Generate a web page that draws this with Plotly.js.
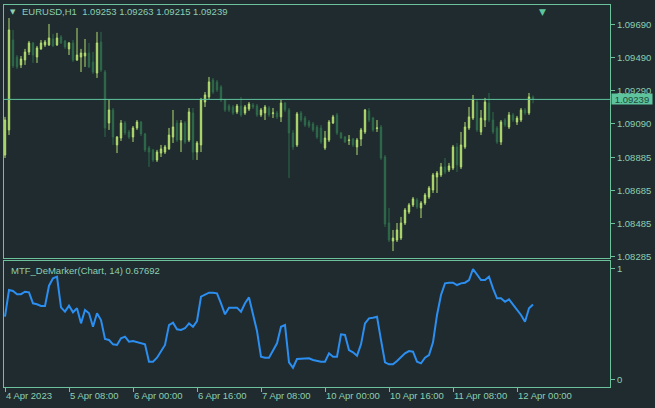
<!DOCTYPE html>
<html>
<head>
<meta charset="utf-8">
<script src="https://cdn.plot.ly/plotly-3.0.1.min.js"></script>
<style>html,body{margin:0;padding:0;background:#1f2b2e;}#chart{width:655px;height:408px;}</style>
</head>
<body>
<div id="chart"></div>
<script>
// ---- data (EURUSD H1, 133 bars) ----
const symbol = "EURUSD,H1";
const openP = [1.08902,1.09054,1.09599,1.09496,1.09448,1.09478,1.09526,1.09581,1.09496,1.09545,
1.09569,1.09569,1.09605,1.09569,1.09617,1.09593,1.09545,1.09581,1.09478,1.09496,
1.09502,1.09520,1.09466,1.09399,1.09587,1.09405,1.09096,1.09175,1.08963,1.09005,
1.09096,1.09042,1.09011,1.09066,1.09102,1.09030,1.08945,1.08933,1.08872,1.08914,
1.08920,1.08939,1.09011,1.09096,1.08993,1.09096,1.08993,1.09157,1.08920,1.08963,
1.09223,1.09254,1.09357,1.09345,1.09314,1.09236,1.09199,1.09193,1.09163,1.09199,
1.09157,1.09181,1.09205,1.09199,1.09145,1.09157,1.09187,1.09153,1.09157,1.09133,
1.09217,1.09175,1.09036,1.08963,1.09157,1.09126,1.09102,1.09090,1.09072,1.09066,
1.08945,1.08993,1.09096,1.09145,1.09036,1.09011,1.08990,1.08999,1.08951,1.08999,
1.09042,1.09169,1.09126,1.09063,1.09072,1.08890,1.08490,1.08381,1.08387,1.08399,
1.08490,1.08557,1.08599,1.08630,1.08581,1.08611,1.08648,1.08690,1.08769,1.08781,
1.08830,1.08811,1.08823,1.08951,1.08830,1.08951,1.09066,1.09126,1.09223,1.09042,
1.09114,1.09217,1.09114,1.09066,1.08981,1.09114,1.09072,1.09145,1.09102,1.09114,
1.09175,1.09157,1.09253];
const highP = [1.09133,1.09732,1.09660,1.09508,1.09502,1.09545,1.09593,1.09587,1.09563,1.09599,
1.09599,1.09696,1.09636,1.09642,1.09629,1.09599,1.09587,1.09599,1.09672,1.09545,
1.09605,1.09581,1.09526,1.09648,1.09648,1.09417,1.09236,1.09187,1.09017,1.09114,
1.09108,1.09054,1.09078,1.09114,1.09108,1.09036,1.08957,1.08939,1.08933,1.08963,
1.08963,1.09066,1.09175,1.09114,1.09114,1.09108,1.09187,1.09187,1.08987,1.09248,
1.09284,1.09375,1.09369,1.09357,1.09326,1.09242,1.09211,1.09205,1.09211,1.09254,
1.09205,1.09223,1.09217,1.09211,1.09187,1.09205,1.09199,1.09187,1.09169,1.09236,
1.09223,1.09187,1.09054,1.09163,1.09169,1.09139,1.09114,1.09102,1.09084,1.09084,
1.09048,1.09114,1.09145,1.09157,1.09042,1.09017,1.09023,1.09005,1.09005,1.09066,
1.09181,1.09187,1.09133,1.09114,1.09084,1.08902,1.08581,1.08448,1.08490,1.08527,
1.08581,1.08611,1.08648,1.08642,1.08623,1.08672,1.08714,1.08793,1.08805,1.08854,
1.08884,1.08854,1.08963,1.08975,1.09042,1.09102,1.09193,1.09266,1.09236,1.09175,
1.09248,1.09278,1.09163,1.09078,1.09114,1.09126,1.09163,1.09157,1.09139,1.09187,
1.09187,1.09278,1.09263];
const lowP = [1.08884,1.09023,1.09429,1.09423,1.09429,1.09448,1.09508,1.09460,1.09460,1.09539,
1.09557,1.09563,1.09557,1.09563,1.09575,1.09545,1.09508,1.09466,1.09472,1.09405,
1.09436,1.09429,1.09393,1.09369,1.09405,1.09011,1.09054,1.08963,1.08914,1.08987,
1.09023,1.08999,1.08981,1.09054,1.09017,1.08920,1.08830,1.08860,1.08860,1.08890,
1.08908,1.08933,1.08975,1.08981,1.08920,1.08969,1.08981,1.08872,1.08872,1.08920,
1.09193,1.09242,1.09272,1.09284,1.09223,1.09163,1.09163,1.09145,1.09151,1.09133,
1.09145,1.09169,1.09181,1.09133,1.09133,1.09114,1.09133,1.09126,1.09120,1.09102,
1.09163,1.08763,1.08933,1.08951,1.09102,1.09072,1.09066,1.09042,1.08999,1.08969,
1.08933,1.08981,1.09090,1.09023,1.08999,1.08975,1.08963,1.08951,1.08902,1.08957,
1.09030,1.09102,1.09042,1.09042,1.08872,1.08466,1.08375,1.08320,1.08375,1.08387,
1.08478,1.08545,1.08587,1.08575,1.08520,1.08599,1.08636,1.08672,1.08672,1.08769,
1.08787,1.08799,1.08811,1.08799,1.08817,1.08939,1.09054,1.09114,1.09042,1.09023,
1.09072,1.09102,1.09030,1.08969,1.08963,1.09072,1.09060,1.09102,1.09084,1.09102,
1.09145,1.09145,1.09215];
const closeP = [1.09114,1.09660,1.09442,1.09436,1.09484,1.09526,1.09581,1.09508,1.09551,1.09581,
1.09587,1.09611,1.09563,1.09611,1.09581,1.09557,1.09581,1.09478,1.09508,1.09520,
1.09520,1.09436,1.09405,1.09581,1.09417,1.09066,1.09175,1.09011,1.09011,1.09096,
1.09036,1.09011,1.09066,1.09102,1.09030,1.08933,1.08920,1.08872,1.08920,1.08939,
1.08951,1.09023,1.09072,1.08993,1.09096,1.08981,1.09163,1.08920,1.08975,1.09236,
1.09266,1.09345,1.09284,1.09296,1.09236,1.09175,1.09175,1.09157,1.09199,1.09145,
1.09193,1.09211,1.09193,1.09145,1.09175,1.09193,1.09145,1.09157,1.09133,1.09217,
1.09175,1.09036,1.08951,1.09151,1.09114,1.09084,1.09078,1.09054,1.09011,1.08981,
1.09005,1.09102,1.09133,1.09036,1.09005,1.08981,1.08993,1.08963,1.08993,1.09054,
1.09175,1.09114,1.09054,1.09066,1.08884,1.08484,1.08387,1.08399,1.08448,1.08490,
1.08569,1.08599,1.08636,1.08587,1.08611,1.08660,1.08702,1.08781,1.08793,1.08830,
1.08799,1.08836,1.08951,1.08842,1.08963,1.09072,1.09133,1.09236,1.09054,1.09126,
1.09223,1.09114,1.09042,1.08981,1.09102,1.09084,1.09145,1.09114,1.09126,1.09175,
1.09157,1.09254,1.09239];
const demarker = [0.568,0.807,0.798,0.769,0.770,0.792,0.786,0.688,0.679,0.664,
0.664,0.846,0.912,0.927,0.652,0.613,0.667,0.607,0.643,0.508,
0.628,0.598,0.478,0.598,0.538,0.368,0.359,0.320,0.314,0.374,
0.389,0.344,0.350,0.338,0.329,0.320,0.164,0.164,0.200,0.254,
0.314,0.493,0.514,0.455,0.449,0.464,0.508,0.478,0.529,0.747,
0.762,0.783,0.783,0.777,0.688,0.589,0.649,0.649,0.649,0.613,
0.688,0.741,0.583,0.439,0.209,0.200,0.200,0.269,0.329,0.478,
0.493,0.159,0.110,0.188,0.188,0.188,0.194,0.179,0.170,0.164,
0.164,0.239,0.209,0.209,0.410,0.404,0.269,0.248,0.218,0.320,
0.508,0.553,0.559,0.568,0.359,0.159,0.141,0.141,0.170,0.209,
0.239,0.260,0.254,0.164,0.149,0.200,0.224,0.338,0.583,0.762,
0.867,0.873,0.873,0.852,0.867,0.873,0.897,0.996,0.948,0.897,
0.897,0.927,0.822,0.733,0.733,0.702,0.724,0.679,0.637,0.583,
0.523,0.643,0.67692];
const priceTickVals = [1.08285,1.08485,1.08685,1.08885,1.09090,1.09290,1.09490,1.09690];
const priceTickText = ["1.08285","1.08485","1.08685","1.08885","1.09090","1.09290","1.09490","1.09690"];
const timeTickBars = [0,16,32,48,64,80,96,112,128];
const timeTickText = ["4 Apr 2023","5 Apr 08:00","6 Apr 00:00","6 Apr 16:00","7 Apr 08:00","10 Apr 00:00","10 Apr 16:00","11 Apr 08:00","12 Apr 00:00"];

// ---- styling ----
const BG = "#1f2b2e";
const FRAME = "#6cc39b";
const TXT = "#8ccfb3";
const BULL = "#b3dd6e";
const BEAR = "#2f6b4a";
const FONT = "Liberation Sans, Arial, sans-serif";
const FS = 9.5;

const idx = openP.map((_, i) => i);
const last = closeP.length - 1;

const traces = [
  {
    type: "candlestick", x: idx, open: openP, high: highP, low: lowP, close: closeP,
    xaxis: "x", yaxis: "y", whiskerwidth: 0,
    increasing: {line: {color: BULL, width: 1}, fillcolor: BULL},
    decreasing: {line: {color: BEAR, width: 1}, fillcolor: BEAR},
    hoverinfo: "skip"
  },
  {
    type: "scatter", mode: "lines", x: idx, y: demarker, xaxis: "x2", yaxis: "y2",
    line: {color: "#2b8ef0", width: 2}, hoverinfo: "skip"
  }
];

const layout = {
  width: 655, height: 408,
  paper_bgcolor: BG, plot_bgcolor: BG,
  margin: {l: 4, r: 45, t: 5, b: 21},
  showlegend: false,
  boxgap: 0.5,
  font: {family: FONT, size: FS, color: TXT},
  xaxis: {
    domain: [0, 1], anchor: "y", range: [-0.25, 151.25],
    showline: true, mirror: true, linecolor: FRAME, linewidth: 1,
    showgrid: false, zeroline: false, showticklabels: false, ticks: "",
    rangeslider: {visible: false}, fixedrange: true
  },
  yaxis: {
    domain: [0.3377, 1], anchor: "x", side: "right",
    range: [1.08278, 1.09811],
    tickvals: priceTickVals, ticktext: priceTickText,
    ticks: "outside", ticklen: 4, tickcolor: FRAME,
    tickfont: {family: FONT, size: FS, color: TXT},
    showline: true, mirror: true, linecolor: FRAME, linewidth: 1,
    showgrid: false, zeroline: false, fixedrange: true
  },
  xaxis2: {
    domain: [0, 1], anchor: "y2", matches: "x", range: [-0.25, 151.25],
    showline: true, mirror: true, linecolor: FRAME, linewidth: 1,
    showgrid: false, zeroline: false,
    tickvals: timeTickBars, ticktext: timeTickText,
    ticks: "outside", ticklen: 4, tickcolor: FRAME, tickangle: 0,
    ticklabelposition: "outside right",
    tickfont: {family: FONT, size: FS, color: TXT}, fixedrange: true
  },
  yaxis2: {
    domain: [0, 0.3298], anchor: "x2", side: "right",
    range: [-0.0628, 1.0673],
    tickvals: [0, 1], ticktext: ["0", "1"],
    ticks: "outside", ticklen: 4, tickcolor: FRAME,
    tickfont: {family: FONT, size: FS, color: TXT},
    showline: true, mirror: true, linecolor: FRAME, linewidth: 1,
    showgrid: false, zeroline: false, fixedrange: true
  },
  shapes: [
    {type: "line", xref: "paper", x0: 0, x1: 1, yref: "y", y0: closeP[last], y1: closeP[last],
     line: {color: "#5ec49e", width: 1}}
  ],
  annotations: [
    {xref: "paper", yref: "y", x: 1, y: closeP[last], xanchor: "left", yanchor: "middle", xshift: 1,
     text: closeP[last].toFixed(5), showarrow: false, bgcolor: "#5ec49e", width: 40, height: 10,
     borderpad: 0, font: {family: FONT, size: FS, color: "#1c4a38"}},
    {xref: "paper", yref: "paper", x: 0.0066, y: 0.9817, xanchor: "left", yanchor: "middle",
     text: "▼", showarrow: false, font: {family: "DejaVu Sans", size: 7, color: TXT}},
    {xref: "paper", yref: "paper", x: 0.0271, y: 0.9817, xanchor: "left", yanchor: "middle",
     text: symbol + "  " + [openP[last], highP[last], lowP[last], closeP[last]].map(v => v.toFixed(5)).join(" "),
     showarrow: false, font: {family: FONT, size: FS, color: TXT}},
    {xref: "paper", yref: "paper", x: 0.0086, y: 0.3049, xanchor: "left", yanchor: "middle",
     text: "MTF_DeMarker(Chart, 14) " + demarker[last].toFixed(5),
     showarrow: false, font: {family: FONT, size: FS, color: TXT}},
    {xref: "paper", yref: "paper", x: 0.8878, y: 1.0, xanchor: "center", yanchor: "top",
     text: "▼", showarrow: false, font: {family: "DejaVu Sans", size: 9, color: "#5ec49e"}}
  ]
};

Plotly.newPlot("chart", traces, layout, {staticPlot: true, displayModeBar: false});
</script>
</body>
</html>
